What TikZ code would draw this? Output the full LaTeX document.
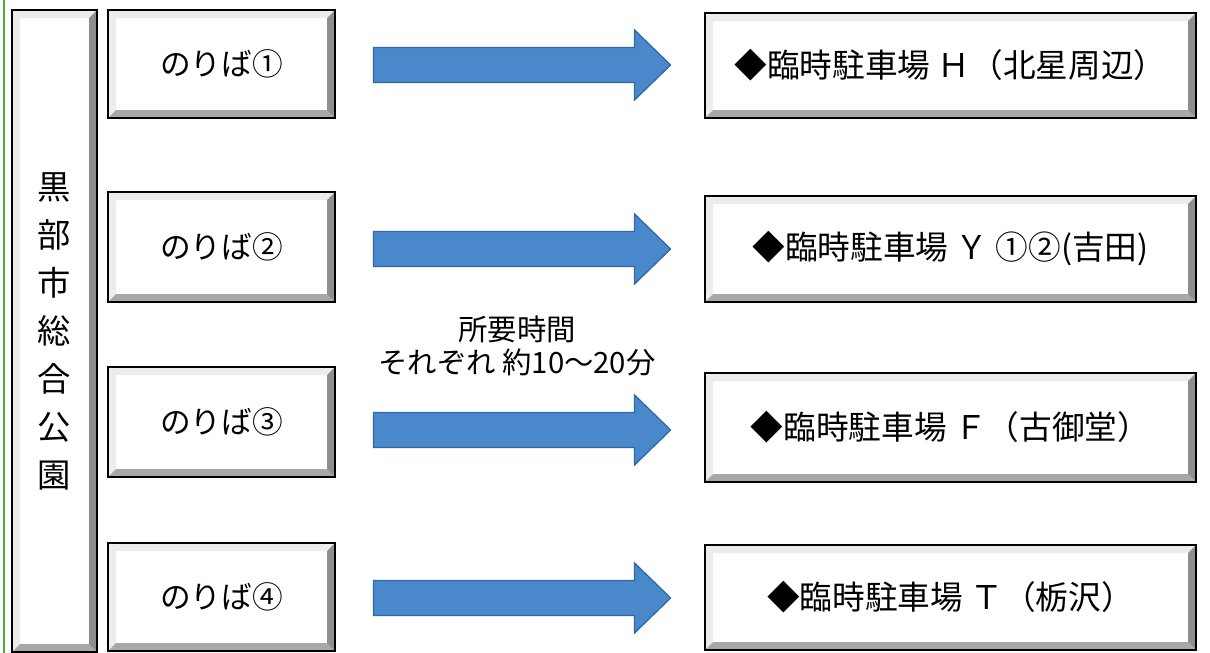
\documentclass[tikz,border=0pt]{standalone}
\usepackage{fontspec}
\setmainfont{Noto Sans CJK JP}
\usetikzlibrary{calc}
\definecolor{arrowfill}{HTML}{4A88CC}
\definecolor{arrowline}{HTML}{2F6AA6}
\definecolor{bevdark}{HTML}{8E8E8E}
\definecolor{bevmid}{HTML}{A8A8A8}
\definecolor{bevlight}{HTML}{ECECEC}
\definecolor{frameGreen}{HTML}{4CAF3A}
\newcommand\fatarrow[2]{%
  \filldraw[arrowstyle] ($(#1)+(0,-17.5)$) -- ($(#2)+(-36,-17.5)$) -- ($(#2)+(-36,-35)$) -- (#2)
    -- ($(#2)+(-36,35)$) -- ($(#2)+(-36,17.5)$) -- ($(#1)+(0,17.5)$) -- cycle;}
\tikzset{
  arrowstyle/.style={fill=arrowfill, draw=arrowline, line width=1pt, line join=miter},
  bevelbox/.style={draw=black, line width=2.2pt, fill=white, inner sep=0pt,
    path picture={
      \fill[bevlight] (path picture bounding box.north west) -- (path picture bounding box.north east)
        -- ([xshift=-6pt,yshift=-6pt]path picture bounding box.north east)
        -- ([xshift=6pt,yshift=-6pt]path picture bounding box.north west) -- cycle;
      \fill[bevlight] (path picture bounding box.north west) -- (path picture bounding box.south west)
        -- ([xshift=6pt,yshift=6pt]path picture bounding box.south west)
        -- ([xshift=6pt,yshift=-6pt]path picture bounding box.north west) -- cycle;
      \fill[bevmid] (path picture bounding box.south west) -- (path picture bounding box.south east)
        -- ([xshift=-6pt,yshift=6pt]path picture bounding box.south east)
        -- ([xshift=6pt,yshift=6pt]path picture bounding box.south west) -- cycle;
      \fill[bevdark] (path picture bounding box.south east) -- (path picture bounding box.north east)
        -- ([xshift=-6pt,yshift=-6pt]path picture bounding box.north east)
        -- ([xshift=-6pt,yshift=6pt]path picture bounding box.south east) -- cycle;
    }},
  stopbox/.style={bevelbox, minimum width=170.25pt, font=\fontsize{23pt}{28pt}\selectfont},
  destbox/.style={bevelbox, minimum width=368.25pt, font=\fontsize{24.5pt}{28pt}\selectfont},
}
\begin{document}
\begin{tikzpicture}[x=0.75pt, y=-0.75pt]
\useasboundingbox (0,0) rectangle (1210,653);
\draw[frameGreen, line width=1.5pt] (4,-5) -- (4,660);

\node[bevelbox, minimum width=63.75pt, minimum height=481.5pt, align=center,
  font=\fontsize{25pt}{36pt}\selectfont] (park) at (54.5,331)
  {黒\\部\\市\\総\\合\\公\\園};

\node[stopbox, minimum height=81pt]   (p1) at (221.5,64)  {のりば①};
\node[stopbox, minimum height=82.5pt] (p2) at (221.5,247) {のりば②};
\node[stopbox, minimum height=82.5pt] (p3) at (221.5,422) {のりば③};
\node[stopbox, minimum height=81pt]   (p4) at (221.5,597) {のりば④};

\node[destbox, minimum height=78.75pt] (d1) at (950.5,65.5)  {◆臨時駐車場 Ｈ（北星周辺）};
\node[destbox, minimum height=79.5pt]  (d2) at (950.5,249)   {◆臨時駐車場 Ｙ ①②(吉田)};
\node[destbox, minimum height=81.75pt] (d3) at (950.5,427.5) {◆臨時駐車場 Ｆ（古御堂）};
\node[destbox, minimum height=78.75pt] (d4) at (950.5,597.5) {◆臨時駐車場 Ｔ（栃沢）};

\node[align=center, font=\fontsize{22pt}{24.5pt}\selectfont] (note) at (517,346)
  {所要時間\\それぞれ 約10〜20分};

\coordinate (s1) at ($(p1.east)+(37,1)$);  \coordinate (e1) at ($(d1.west |- s1)+(-33,0)$);
\coordinate (s2) at ($(p2.east)+(37,2)$);  \coordinate (e2) at ($(d2.west |- s2)+(-33,0)$);
\coordinate (s3) at ($(p3.east)+(37,8)$);  \coordinate (e3) at ($(d3.west |- s3)+(-33,0)$);
\coordinate (s4) at ($(p4.east)+(37,1)$);  \coordinate (e4) at ($(d4.west |- s4)+(-33,0)$);
\fatarrow{s1}{e1}
\fatarrow{s2}{e2}
\fatarrow{s3}{e3}
\fatarrow{s4}{e4}
\end{tikzpicture}
\end{document}
